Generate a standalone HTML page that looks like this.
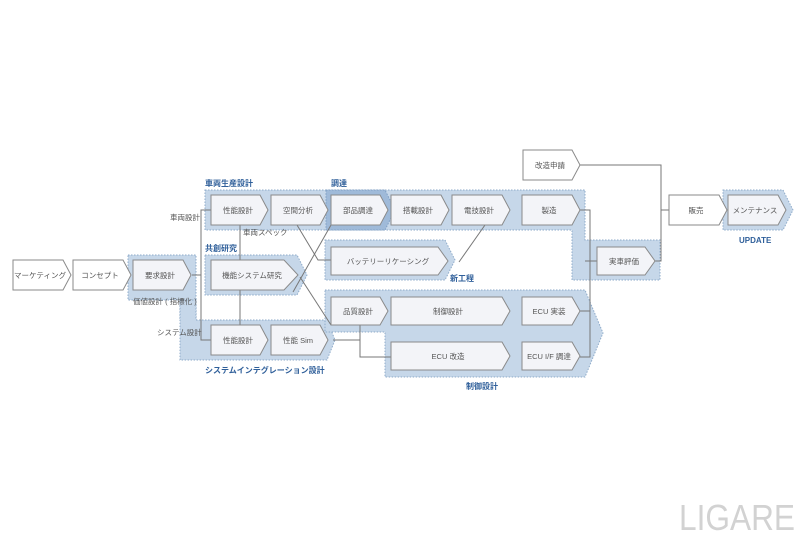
<!DOCTYPE html>
<html><head><meta charset="utf-8"><style>
html,body{margin:0;padding:0;background:#fff;}
svg text{font-family:"Liberation Sans","Noto Sans CJK JP",sans-serif;}
</style></head><body>
<svg width="800" height="533" viewBox="0 0 800 533" xmlns="http://www.w3.org/2000/svg">
<g fill="#c6d7e9" stroke="#8fabc9" stroke-width="1" stroke-dasharray="1.5,1.5">
  <!-- 要求設計 + system integration region -->
  <polygon points="128,255 196,255 196,320 180,320 180,300 128,300"/>
  <polygon points="180,300 196,300 196,320 327,320 335,340 327,360 180,360"/>
  <!-- row1 -->
  <polygon points="205,190 585,190 585,240 660,240 660,280 572,280 572,230 205,230"/>
  <!-- 共創研究 -->
  <polygon points="205,255 297,255 307,275 297,295 205,295"/>
  <!-- battery -->
  <polygon points="325,240 445,240 455,260 445,280 325,280"/>
  <!-- 制御設計 -->
  <polygon points="325,290 585,290 603,333 585,377 385,377 385,332 325,332"/>
  <!-- maintenance -->
  <polygon points="723,190 783,190 793,210 783,230 723,230"/>
</g>
<polygon points="326,190 385,190 395,210 385,230 326,230" fill="#9fbad9" stroke="#7f9fc4" stroke-dasharray="1.5,1.5"/>

<g stroke="#777" stroke-width="1" fill="none">
  <polyline points="192,275 201,275"/>
  <polyline points="211,210 201,210 201,340 211,340"/>
  <line x1="240" y1="225" x2="240" y2="325"/>
  <polyline points="297,225 318,260 331,260"/>
  <line x1="331" y1="225" x2="293" y2="292"/>
  <line x1="300" y1="277" x2="331" y2="325"/>
  <polyline points="333,340 360,340"/>
  <polyline points="360,325 360,357 391,357"/>
  <line x1="485" y1="225" x2="459" y2="262"/>
  <polyline points="580,210 590,210 590,357 580,357"/>
  <line x1="580" y1="311" x2="590" y2="311"/>
  <line x1="585" y1="261" x2="597" y2="261"/>
  <polyline points="580,165 661,165 661,261 655,261"/>
  <line x1="661" y1="210" x2="669" y2="210"/>
</g>

<g fill="#f3f4f8" stroke="#8a8a8a" stroke-width="1">
  <polygon points="13,260 63,260 71,275 63,290 13,290" fill="#fff"/>
  <polygon points="73,260 123,260 131,275 123,290 73,290" fill="#fff"/>
  <polygon points="133,260 183,260 191,275 183,290 133,290"/>
  <polygon points="211,195 260,195 268,210 260,225 211,225"/>
  <polygon points="271,195 320,195 328,210 320,225 271,225"/>
  <polygon points="331,195 380,195 388,210 380,225 331,225"/>
  <polygon points="391,195 441,195 449,210 441,225 391,225"/>
  <polygon points="452,195 502,195 510,210 502,225 452,225"/>
  <polygon points="522,195 572,195 580,210 572,225 522,225"/>
  <polygon points="211,260 284,260 298,275 284,290 211,290"/>
  <polygon points="331,247 438,247 448,261 438,275 331,275"/>
  <polygon points="211,325 260,325 268,340 260,355 211,355"/>
  <polygon points="271,325 320,325 328,340 320,355 271,355"/>
  <polygon points="331,297 380,297 388,311 380,325 331,325"/>
  <polygon points="391,297 502,297 510,311 502,325 391,325"/>
  <polygon points="522,297 572,297 580,311 572,325 522,325"/>
  <polygon points="391,342 502,342 510,356 502,370 391,370"/>
  <polygon points="522,342 572,342 580,356 572,370 522,370"/>
  <polygon points="597,247 645,247 655,261 645,275 597,275"/>
  <polygon points="523,150 572,150 580,165 572,180 523,180" fill="#fff"/>
  <polygon points="669,195 719,195 727,210 719,225 669,225" fill="#fff"/>
  <polygon points="728,195 778,195 786,210 778,225 728,225"/>
</g>

<g font-size="7.5" fill="#555" text-anchor="middle">
  <text x="40" y="278">マーケティング</text>
  <text x="100" y="278">コンセプト</text>
  <text x="160" y="278">要求設計</text>
  <text x="238" y="213">性能設計</text>
  <text x="298" y="213">空間分析</text>
  <text x="358" y="213">部品調達</text>
  <text x="418" y="213">搭載設計</text>
  <text x="479" y="213">電技設計</text>
  <text x="549" y="213">製造</text>
  <text x="252" y="278">機能システム研究</text>
  <text x="388" y="264">バッテリーリケーシング</text>
  <text x="238" y="343">性能設計</text>
  <text x="298" y="343">性能 Sim</text>
  <text x="358" y="314">品質設計</text>
  <text x="448" y="314">制御設計</text>
  <text x="549" y="314">ECU 実装</text>
  <text x="448" y="359">ECU 改造</text>
  <text x="549" y="359">ECU I/F 調達</text>
  <text x="624" y="264">実車評価</text>
  <text x="550" y="168">改造申請</text>
  <text x="696" y="213">販売</text>
  <text x="755" y="213">メンテナンス</text>
</g>
<g font-size="7.5" fill="#555">
  <text x="170" y="220">車両設計</text>
  <text x="157" y="335">システム設計</text>
  <text x="133" y="304">価値設計 ( 指標化 )</text>
  <text x="243" y="235">車両スペック</text>
</g>
<g font-size="8" font-weight="bold" fill="#2f5f9a">
  <text x="205" y="186">車両生産設計</text>
  <text x="331" y="186">調達</text>
  <text x="205" y="251">共創研究</text>
  <text x="205" y="373">システムインテグレーション設計</text>
  <text x="450" y="281">新工程</text>
  <text x="466" y="389">制御設計</text>
  <text x="739" y="243">UPDATE</text>
</g>
<text x="679" y="530" font-size="36" fill="#d2d2d2" textLength="116" lengthAdjust="spacingAndGlyphs">LIGARE</text>
</svg>
</body></html>
